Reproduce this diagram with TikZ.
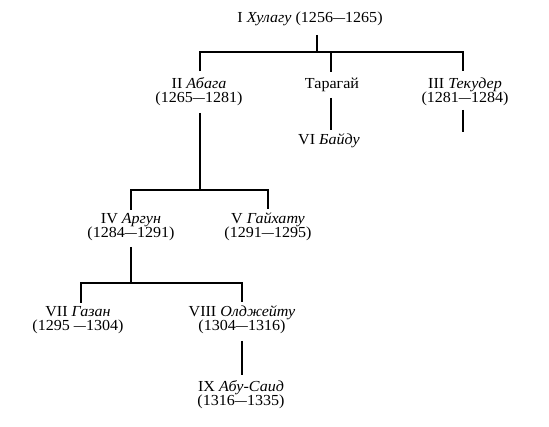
\documentclass[tikz,border=0pt]{standalone}
\usepackage{graphicx}
\usepackage{fontspec}
\setmainfont{Liberation Serif}[FakeStretch=1.05]
\newcommand\dsh{\scalebox{0.75}[1]{—}}
\begin{document}
\begin{tikzpicture}[x=1pt,y=-1pt,
  lbl/.style={font=\fontsize{15.3}{14.5}\selectfont, inner sep=0pt, outer sep=0pt, align=center, anchor=base},
  conn/.style={line width=1.7pt, line join=miter}]
\useasboundingbox (0,0) rectangle (549,427);
% labels (two-line nodes are anchored at the baseline of their last line)
\node[lbl] (hul) at (310,23) {I \textit{Хулагу} (1256\dsh1265)};
\node[lbl] (aba) at (199,103) {II \textit{Абага}\\(1265\dsh1281)};
\node[lbl] (tar) at (332,89) {Тарагай};
\node[lbl] (tek) at (465,103) {III \textit{Текудер}\\(1281\dsh1284)};
\node[lbl] (bai) at (329,145) {VI \textit{Байду}};
\node[lbl] (arg) at (131,238) {IV \textit{Аргун}\\(1284\dsh1291)};
\node[lbl] (gay) at (268,238) {V \textit{Гайхату}\\(1291\dsh1295)};
\node[lbl] (gaz) at (78,331) {VII \textit{Газан}\\(1295 \dsh1304)};
\node[lbl] (olj) at (242,331) {VIII \textit{Олджейту}\\(1304\dsh1316)};
\node[lbl] (abu) at (241,406) {IX \textit{Абу-Саид}\\(1316\dsh1335)};
% junctions
\coordinate (j1) at (317,52);
\coordinate (b1l) at (200,52);
\coordinate (b1m) at (331,52);
\coordinate (b1r) at (463,52);
\coordinate (tekend) at (463,132);
\coordinate (j2) at (200,190);
\coordinate (b2l) at (131,190);
\coordinate (b2r) at (268,190);
\coordinate (j3) at (131,283);
\coordinate (b3l) at (81,283);
\coordinate (b3r) at (242,283);
% connectors
\draw[conn, shorten <=8.5pt] (j1 |- hul.south) -- (j1);
\draw[conn, shorten <=6.5pt, shorten >=6.5pt] (aba.north -| b1l) -- (b1l) -- (b1r) -- (tek.north -| b1r);
\draw[conn, shorten >=6.5pt] (b1m) -- (tar.north -| b1m);
\draw[conn, shorten <=5.5pt, shorten >=4.5pt] (tar.south -| b1m) -- (bai.north -| b1m);
\draw[conn, shorten <=3.5pt] (tek.south -| b1r) -- (tekend);
\draw[conn, shorten <=6.5pt] (aba.south -| j2) -- (j2);
\draw[conn, shorten <=3.5pt, shorten >=3.5pt] (arg.north -| b2l) -- (b2l) -- (b2r) -- (gay.north -| b2r);
\draw[conn, shorten <=5.5pt] (arg.south -| j3) -- (j3);
\draw[conn, shorten <=3.5pt, shorten >=3.5pt] (gaz.north -| b3l) -- (b3l) -- (b3r) -- (olj.north -| b3r);
\draw[conn, shorten <=6.5pt, shorten >=5.5pt] (olj.south -| b3r) -- (abu.north -| b3r);
\end{tikzpicture}
\end{document}
